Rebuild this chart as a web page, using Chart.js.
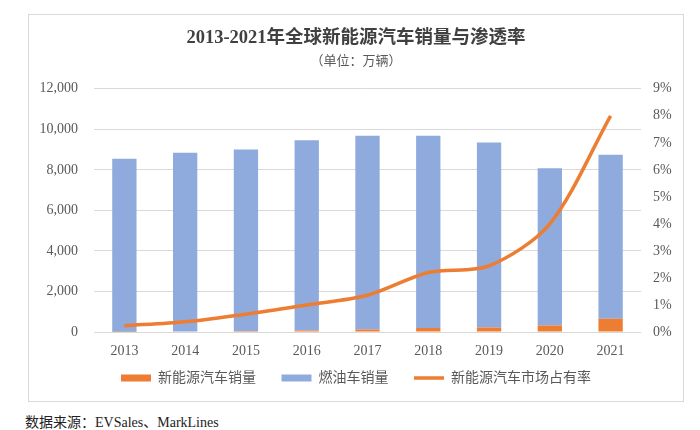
<!DOCTYPE html>
<html>
<head>
<meta charset="utf-8">
<script src="https://cdn.jsdelivr.net/npm/chart.js@4.4.0/dist/chart.umd.min.js"></script>
<style>
    body { margin: 0; background: #fff; width: 700px; height: 430px; position: relative; overflow: hidden; }
    #box { position: absolute; left: 28px; top: 14px; width: 654px; height: 386px; border: 1px solid #d9d9d9; }
    #src { position: absolute; left: 25px; top: 411px; font: 14px "Liberation Serif", "Noto Sans CJK SC", serif; color: #222; }
</style>
</head>
<body>
<div id="box"><canvas id="chart"></canvas></div>
<div id="src">数据来源：EVSales、MarkLines</div>
<script>
var years = ['2013', '2014', '2015', '2016', '2017', '2018', '2019', '2020', '2021'];
// 万辆
var nevSales = [18, 30, 55, 75, 122, 201, 221, 324, 650];
var oilSales = [8530, 8820, 8945, 9390, 9560, 9480, 9130, 7760, 8100];
// %
var nevShare = [0.23, 0.38, 0.66, 1.0, 1.36, 2.2, 2.45, 4.0, 8.0];

var ORANGE = '#ED7D31';
var BLUE = '#8FAADC';
var GREY = '#595959';

Chart.defaults.font.family = '"Liberation Serif", "Noto Sans CJK SC", serif';
Chart.defaults.color = GREY;

var ctx = document.getElementById('chart');
var myChart = new Chart(ctx, {
    type: 'bar',
    data: {
        labels: years,
        datasets: [{
            label: '新能源汽车销量',
            data: nevSales,
            backgroundColor: ORANGE,
            order: 1,
            barPercentage: 0.4,
            categoryPercentage: 1.0
        }, {
            label: '燃油车销量',
            data: oilSales,
            backgroundColor: BLUE,
            order: 1,
            barPercentage: 0.4,
            categoryPercentage: 1.0
        }, {
            type: 'line',
            label: '新能源汽车市场占有率',
            data: nevShare,
            yAxisID: 'y1',
            borderColor: ORANGE,
            backgroundColor: ORANGE,
            borderWidth: 3.5,
            pointRadius: 0,
            tension: 0.3,
            order: 0
        }]
    },
    options: {
        responsive: true,
        maintainAspectRatio: false,
        animation: false,
        layout: { padding: { left: 0, right: 0, top: 0, bottom: 6 } },
        scales: {
            x: {
                stacked: true,
                grid: { display: false, drawTicks: false },
                border: { display: false },
                ticks: { font: { size: 14 }, padding: 10.6 }
            },
            y: {
                stacked: true,
                position: 'left',
                min: 0,
                max: 12000,
                grid: { color: '#d9d9d9', drawTicks: false },
                border: { display: false },
                ticks: {
                    stepSize: 2000,
                    padding: 16,
                    font: { size: 14 },
                    callback: function (v) { return v.toLocaleString('en-US'); }
                },
                afterFit: function (scale) { scale.width = 65; }
            },
            y1: {
                position: 'right',
                min: 0,
                max: 9,
                grid: { display: false, drawTicks: false },
                border: { display: false },
                ticks: {
                    stepSize: 1,
                    padding: 12,
                    font: { size: 14 },
                    callback: function (v) { return v + '%'; }
                },
                afterFit: function (scale) { scale.width = 42; }
            }
        },
        plugins: {
            tooltip: { enabled: false },
            title: {
                display: true,
                text: '2013-2021年全球新能源汽车销量与渗透率',
                color: '#404040',
                font: { size: 18.5, weight: 'bold' },
                padding: { top: 12, bottom: 0 }
            },
            subtitle: {
                display: true,
                text: '（单位：万辆）',
                color: GREY,
                font: { size: 13 },
                padding: { top: 5, bottom: 19 }
            },
            legend: {
                position: 'bottom',
                labels: {
                    usePointStyle: true,
                    pointStyleWidth: 30,
                    boxHeight: 7,
                    padding: 1,
                    color: GREY,
                    font: { size: 14 },
                    generateLabels: function (chart) {
                        var items = Chart.defaults.plugins.legend.labels.generateLabels(chart);
                        items.forEach(function (item) {
                            var ds = chart.data.datasets[item.datasetIndex];
                            if (ds.type === 'line') {
                                item.pointStyle = 'line';
                            } else {
                                item.pointStyle = 'rect';
                                item.lineWidth = 0;
                                // extra room between legend items
                                item.text = item.text + '       ';
                            }
                        });
                        return items.sort(function (a, b) { return a.datasetIndex - b.datasetIndex; });
                    }
                }
            }
        }
    }
});
</script>
</body>
</html>
